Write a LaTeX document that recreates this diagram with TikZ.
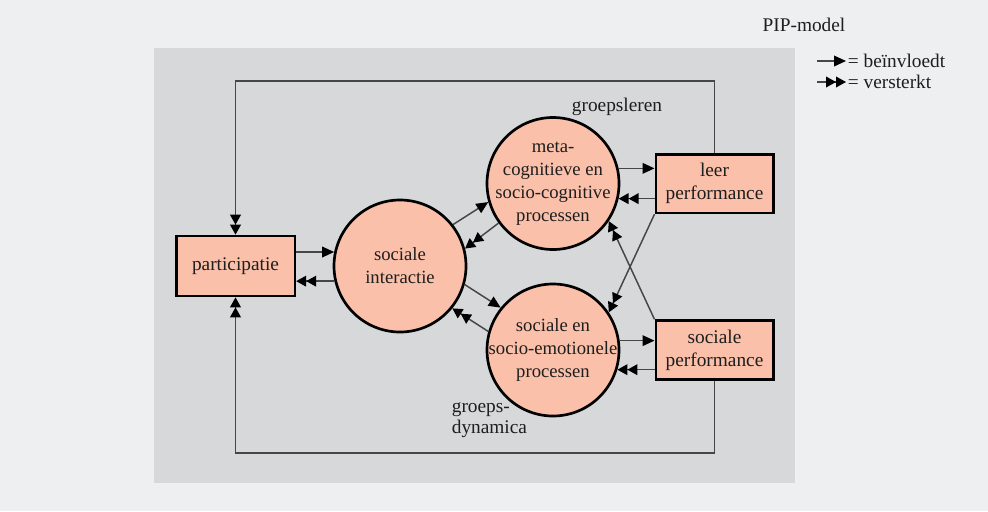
\documentclass[tikz,border=0pt]{standalone}
\usepackage{fontspec}
\setmainfont{Liberation Serif}
\usetikzlibrary{arrows.meta}

\definecolor{pagebg}{RGB}{237,239,240}
\definecolor{panelbg}{RGB}{214,216,217}
\definecolor{peach}{RGB}{250,192,170}
\definecolor{wire}{RGB}{70,70,70}
\definecolor{ink}{RGB}{30,30,30}

\tikzset{every picture/.style={line width=0.75pt}}
\tikzset{
	box/.style={draw=black, line width=2pt, fill=peach, minimum width=88pt, minimum height=44pt, inner sep=0pt, align=center, text=ink, font=\fontsize{14.5}{17.25}\selectfont},
	blob/.style={circle, draw=black, line width=2pt, fill=peach, minimum size=99pt, inner sep=-8pt, align=center, text=ink, font=\fontsize{14}{17.25}\selectfont},
	note/.style={text=ink, inner sep=1pt, font=\fontsize{14.5}{16}\selectfont},
	influence/.style={draw=wire, line width=1.1pt, -{Triangle[length=9pt,width=8pt,color=black]}},
	boost/.style={draw=wire, line width=1.1pt, -{Triangle[length=7.5pt,width=8pt,color=black]Triangle[length=7.5pt,width=8pt,color=black]}}
}

\begin{document}
\begin{tikzpicture}[x=0.75pt,y=0.75pt,yscale=-1,xscale=1]
	\useasboundingbox (0,0) rectangle (988,511);
	
	%Shape: Background
	\fill[pagebg] (0,0) rectangle (988,511);
	%Shape: Panel
	\fill[panelbg] (154,48) rectangle (795,483);
	
	%Shape: Rectangle
	\node[box, minimum width=89pt, minimum height=45pt] (participatie) at (235.5,266) {participatie};
	%Shape: Circle
	\node[blob] (interactie) at (400,266) {sociale\\interactie};
	%Shape: Circle
	\node[blob] (meta) at (553,183.5) {meta-\\cognitieve en\\socio-cognitive\\processen};
	%Shape: Circle
	\node[blob] (sociale) at (553,350) {sociale en\\socio-emotionele\\processen};
	%Shape: Rectangle
	\node[box] (leer) at (714.5,183.5) {leer\\performance};
	%Shape: Rectangle
	\node[box] (sperf) at (714.5,350) {sociale\\performance};
	
	% Feedback loops
	\coordinate (loopT) at (235.5,81);
	\coordinate (loopB) at (235.5,453);
	\draw[boost, line width=1.3pt] (leer.north) |- (loopT) -- (participatie.north);
	\draw[boost, line width=1.3pt] (sperf.south) |- (loopB) -- (participatie.south);
	
	% participatie <-> sociale interactie
	\draw[influence] (participatie.east |- interactie.168) -- (interactie.168);
	\draw[boost] (interactie.193) -- (participatie.east |- interactie.193);
	
	% sociale interactie <-> processen
	\draw[influence] (interactie.38) -- (meta.196);
	\draw[boost] (meta.216) -- (interactie.15);
	\draw[influence] (interactie.-16) -- (sociale.141);
	\draw[boost] (sociale.164) -- (interactie.-39);
	
	% processen <-> performance
	\draw[influence] (meta.13) -- (meta.13 -| leer.west);
	\draw[boost] (meta.-13 -| leer.west) -- (meta.-13);
	\draw[influence] (sociale.8) -- (sociale.8 -| sperf.west);
	\draw[boost] (sociale.-17 -| sperf.west) -- (sociale.-17);
	
	% crossing
	\draw[boost] (leer.south west) -- (sociale.34);
	\draw[boost] (sperf.north west) -- (meta.-34);
	
	% Text Node
	\node[note] (groepsleren) at (617,107) {groepsleren};
	% Text Node
	\node[note, anchor=west, align=left] (dynamica) at (450,420) {groeps-\\dynamica};
	% Text Node
	\node[note] (title) at (804,25) {PIP-model};
	
	% Legend
	\node[note, anchor=west] (keyInf) at (846,61) {= beïnvloedt};
	\node[note, anchor=west] (keyBoost) at (846,82) {= versterkt};
	\coordinate (keyInfStart) at (817,61);
	\coordinate (keyBoostStart) at (817,82);
	\draw[influence] (keyInfStart) -- (keyInf.west);
	\draw[boost] (keyBoostStart) -- (keyBoost.west);
	
\end{tikzpicture}
\end{document}
